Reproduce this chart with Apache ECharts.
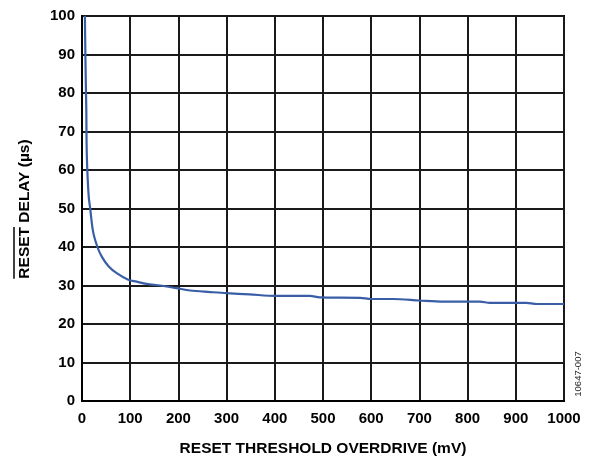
<!DOCTYPE html>
<html>
<head>
<meta charset="utf-8">
<script src="https://cdn.jsdelivr.net/npm/echarts@6/dist/echarts.min.js"></script>
<style>html,body{margin:0;padding:0;background:#fff}#c{width:589px;height:459px}</style>
</head>
<body>
<div id="c"></div>
<script>
// Data
const overdrive = [6, 7, 8, 9, 9.5, 11, 14, 17, 23, 32, 41, 55, 72, 96, 113, 134, 162, 196, 224, 266, 300, 348, 400, 473, 493, 577, 600, 646, 700, 750, 826, 846, 922, 943, 1000];
const delay = [100, 90, 82, 75, 67, 60, 53, 50, 44, 40, 37.5, 35, 33.2, 31.5, 31, 30.4, 30, 29.3, 28.7, 28.3, 28, 27.7, 27.3, 27.3, 26.9, 26.8, 26.5, 26.5, 26.1, 25.8, 25.8, 25.5, 25.5, 25.2, 25.2];
const xTicks = [0, 100, 200, 300, 400, 500, 600, 700, 800, 900, 1000];
const yTicks = [0, 10, 20, 30, 40, 50, 60, 70, 80, 90, 100];
const xTitle = 'RESET THRESHOLD OVERDRIVE (mV)';
const yTitleBar = 'RESET';
const yTitleRest = ' DELAY (µs)';
const figId = '10647-007';

const FF = '"Liberation Sans", Arial, sans-serif';
const titleFont = 'bold 15.5px ' + FF;
const ctx = document.createElement('canvas').getContext('2d');
ctx.font = titleFont;
const wAll = ctx.measureText(yTitleBar + yTitleRest).width;
const wBar = ctx.measureText(yTitleBar).width;

const chart = echarts.init(document.getElementById('c'), null, {renderer: 'canvas'});
chart.setOption({
  animation: false,
  grid: {left: 82, right: 25, top: 16, bottom: 58, outerBoundsMode: 'none', containLabel: false,
    show: true, borderColor: '#000', borderWidth: 2, backgroundColor: 'transparent'},
  xAxis: {
    type: 'value', min: xTicks[0], max: xTicks[xTicks.length - 1], interval: 100,
    name: xTitle, nameLocation: 'middle', nameGap: 40,
    nameTextStyle: {fontFamily: FF, fontWeight: 'bold', fontSize: 15.5, color: '#000'},
    axisLine: {show: true, lineStyle: {color: '#000', width: 2}},
    axisTick: {show: false},
    axisLabel: {margin: 10, fontFamily: FF, fontWeight: 'bold', fontSize: 15, color: '#000',
      formatter: v => xTicks.includes(v) ? String(v) : ''},
    splitLine: {show: true, lineStyle: {color: '#1a1a1a', width: 2}}
  },
  yAxis: {
    type: 'value', min: yTicks[0], max: yTicks[yTicks.length - 1], interval: 10,
    axisLine: {show: true, lineStyle: {color: '#000', width: 2}},
    axisTick: {show: false},
    axisLabel: {margin: 7, fontFamily: FF, fontWeight: 'bold', fontSize: 15, color: '#000',
      formatter: v => yTicks.includes(v) ? String(v) : ''},
    splitLine: {show: true, lineStyle: {color: '#1a1a1a', width: 2}}
  },
  series: [{
    type: 'line',
    data: overdrive.map((x, i) => [x, delay[i]]),
    showSymbol: false,
    smooth: 0.3,
    lineStyle: {color: '#3a5ea6', width: 2.2},
    z: 5
  }],
  graphic: [
    {
      type: 'group', x: 24.5, y: 209, rotation: Math.PI / 2,
      children: [
        {type: 'text', x: 0, y: 0, style: {text: yTitleBar + yTitleRest, font: titleFont, fill: '#000', align: 'center', verticalAlign: 'middle'}},
        {type: 'line', shape: {x1: -wAll / 2, y1: -10.5, x2: -wAll / 2 + wBar, y2: -10.5}, style: {stroke: '#000', lineWidth: 1.5}}
      ]
    },
    {
      type: 'text', x: 578, y: 374, rotation: Math.PI / 2,
      style: {text: figId, font: '9.5px ' + FF, fill: '#222', align: 'center', verticalAlign: 'middle'}
    }
  ]
});
</script>
</body>
</html>
